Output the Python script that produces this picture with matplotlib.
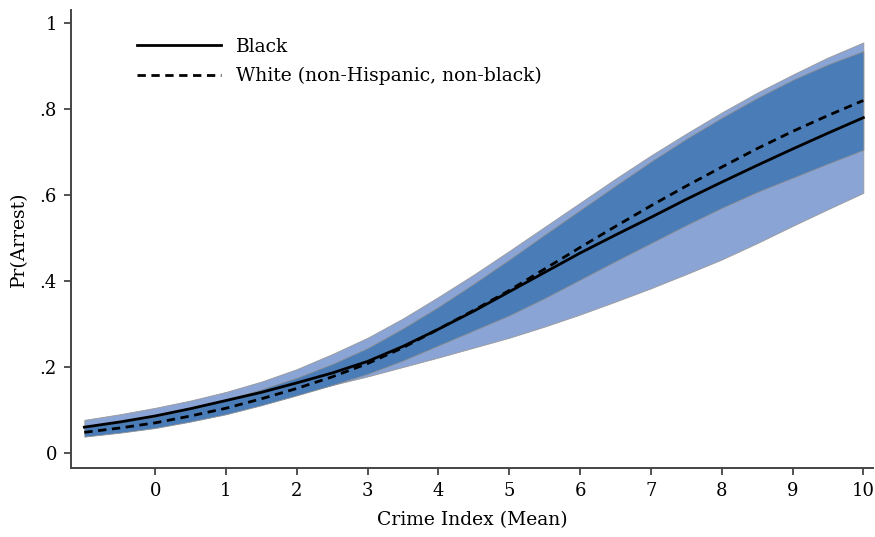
import numpy as np
import matplotlib.pyplot as plt

# valores (cada media unidad)
x = [-1, -0.5, 0, 0.5, 1, 1.5, 2, 2.5, 3, 3.5, 4, 4.5, 5, 5.5, 6, 6.5, 7, 7.5, 8, 8.5, 9, 9.5, 10]
black = [0.060, 0.072, 0.086, 0.103, 0.122, 0.141, 0.163, 0.186, 0.213, 0.248, 0.288, 0.330,
         0.375, 0.420, 0.465, 0.507, 0.548, 0.590, 0.630, 0.669, 0.707, 0.744, 0.780]
black_hi = [0.077, 0.090, 0.105, 0.122, 0.142, 0.166, 0.195, 0.230, 0.268, 0.313, 0.363, 0.415,
            0.470, 0.526, 0.582, 0.638, 0.692, 0.743, 0.792, 0.838, 0.880, 0.920, 0.955]
black_lo = [0.045, 0.055, 0.067, 0.082, 0.098, 0.117, 0.137, 0.158, 0.178, 0.200, 0.222, 0.245,
            0.268, 0.294, 0.322, 0.352, 0.383, 0.416, 0.450, 0.488, 0.528, 0.567, 0.605]
white = [0.048, 0.058, 0.070, 0.086, 0.104, 0.126, 0.150, 0.177, 0.208, 0.245, 0.288, 0.332,
         0.378, 0.428, 0.478, 0.527, 0.575, 0.621, 0.665, 0.708, 0.748, 0.785, 0.820]
white_hi = [0.060, 0.072, 0.085, 0.103, 0.124, 0.148, 0.175, 0.207, 0.244, 0.290, 0.340, 0.394,
            0.450, 0.508, 0.565, 0.622, 0.678, 0.731, 0.780, 0.826, 0.868, 0.904, 0.935]
white_lo = [0.038, 0.047, 0.058, 0.073, 0.090, 0.111, 0.134, 0.158, 0.184, 0.215, 0.250, 0.285,
            0.320, 0.360, 0.403, 0.446, 0.488, 0.530, 0.570, 0.607, 0.640, 0.673, 0.705]

xticks = list(range(0, 11))
yticks = [0, 0.2, 0.4, 0.6, 0.8, 1]
ylabels = ["0", ".2", ".4", ".6", ".8", "1"]

plt.rcParams['font.family'] = ['DejaVu Serif']

fig = plt.figure(figsize=(8.75, 5.37), dpi=100)
ax = fig.add_axes([0.081, 0.1285, 0.917, 0.8525])

ax.fill_between(x, black_lo, black_hi, color="#8aa4d5", edgecolor="#9a9a9a", linewidth=0.6, zorder=1)
ax.fill_between(x, white_lo, white_hi, color="#4a7db8", edgecolor="#8f8f8f", linewidth=0.6, zorder=2)
ax.plot(x, black, color="black", linewidth=2, label="Black", zorder=3)
ax.plot(x, white, color="black", linewidth=2, linestyle=(0, (3, 2)),
        label="White (non-Hispanic, non-black)", zorder=3)

ax.set_xlim(-1.19, 10.14)
ax.set_ylim(-0.035, 1.03)
ax.set_xticks(xticks)
ax.set_yticks(yticks)
ax.set_yticklabels(ylabels)
ax.tick_params(labelsize=13, length=5, width=1.2, color="#333333", pad=5)
for s in ["top", "right"]:
    ax.spines[s].set_visible(False)
for s in ["left", "bottom"]:
    ax.spines[s].set_color("#444444")
    ax.spines[s].set_linewidth(1.4)

ax.set_xlabel("Crime Index (Mean)", fontsize=13.5, labelpad=8)
ax.set_ylabel("Pr(Arrest)", fontsize=13.5, labelpad=8)

ax.legend(loc="upper left", bbox_to_anchor=(0.073, 0.956), borderaxespad=0, frameon=False,
          fontsize=13.5, handlelength=4.5, handletextpad=0.8, labelspacing=0.6)

fig.savefig("out.png", dpi=100)
